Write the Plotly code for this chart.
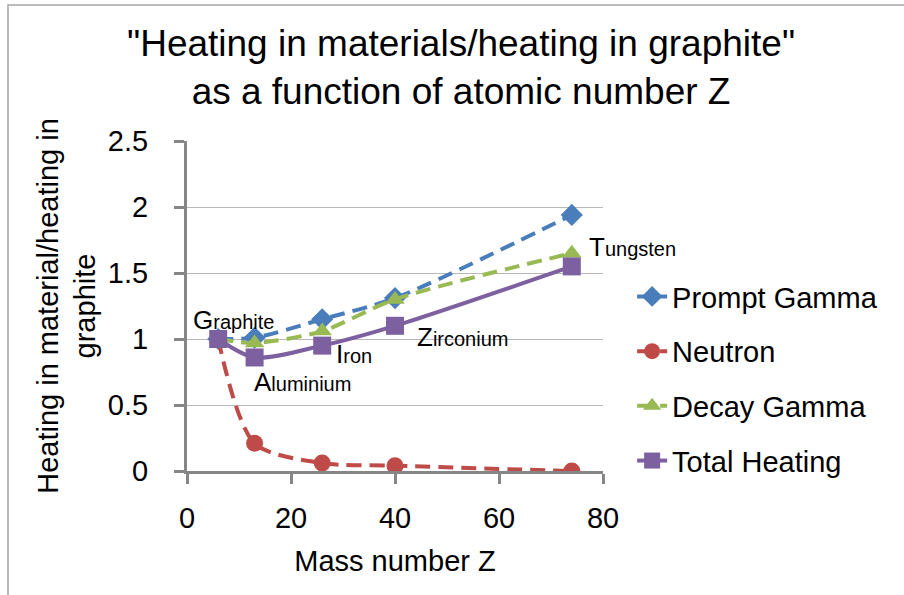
import plotly.graph_objects as go

# Data
z_values = [6, 13, 26, 40, 74]
prompt_gamma = [1.0, 1.01, 1.15, 1.31, 1.94]
neutron = [1.0, 0.21, 0.06, 0.04, 0.0]
decay_gamma = [1.0, 0.97, 1.06, 1.30, 1.65]
total_heating = [1.0, 0.86, 0.95, 1.10, 1.55]
materials = ["Graphite", "Aluminium", "Iron", "Zirconium", "Tungsten"]
x_ticks = [0, 20, 40, 60, 80]
y_ticks = [0, 0.5, 1, 1.5, 2, 2.5]

FONT = "Liberation Sans, Arial, sans-serif"
DASH = "15px,8px"

series = [
    ("Prompt Gamma", prompt_gamma, "#4a7ebb", "diamond", 17, DASH),
    ("Neutron", neutron, "#be4b48", "circle", 17, DASH),
    ("Decay Gamma", decay_gamma, "#98b954", "triangle-up", 17, DASH),
    ("Total Heating", total_heating, "#7d60a0", "square", 18, "solid"),
]

fig = go.Figure()
for i, (name, vals, color, sym, size, dash) in enumerate(series):
    fig.add_trace(go.Scatter(
        x=z_values, y=vals, name=name, mode="lines+markers",
        line=dict(color=color, width=4, dash=dash, shape="spline", smoothing=0.8),
        marker=dict(symbol=sym, size=size, color=color, line=dict(width=0)),
        legendgroup="g%d" % i,
    ))

# Data labels on Total Heating (left edge offset, vertical offset in px)
label_offsets = [(-27, 19), (-3, -25), (12, -8), (20, -11), (15, 19)]
for name, x, y, (dx, dy) in zip(materials, z_values, total_heating, label_offsets):
    fig.add_annotation(
        x=x, y=y, xref="x", yref="y", showarrow=False,
        text="<span style='font-size:26px'>%s</span>%s" % (name[0], name[1:]),
        font=dict(family=FONT, size=20, color="#000000"),
        xanchor="left", yanchor="middle", xshift=dx, yshift=dy,
    )

axis_common = dict(
    showline=True, linecolor="#868686", linewidth=3,
    ticks="outside", ticklen=10, tickwidth=3, tickcolor="#868686",
    tickfont=dict(family=FONT, size=29, color="#000000"),
    zeroline=False, automargin=False,
)

fig.update_xaxes(
    range=[0, 80], tickvals=x_ticks, showgrid=False,
    ticklabelstandoff=9,
    title=dict(text="Mass number Z", font=dict(family=FONT, size=29, color="#000000"), standoff=18),
    **axis_common,
)
fig.update_yaxes(
    range=[0, 2.5], tickvals=y_ticks, ticktext=["0", "0.5", "1", "1.5", "2", "2.5"],
    showgrid=True, gridcolor="#b8b8b8", gridwidth=1,
    ticklabelstandoff=20,
    title=dict(text="Heating in material/heating in<br>graphite",
               font=dict(family=FONT, size=29, color="#000000"), standoff=4),
    **axis_common,
)

# Outer chart border
fig.add_shape(type="rect", xref="paper", yref="paper",
              x0=-0.4303, x1=1.9, y0=-1.0, y1=1.412,
              line=dict(color="#a6a6a6", width=1.5), fillcolor="rgba(0,0,0,0)", layer="below")

fig.update_layout(
    width=904, height=595,
    margin=dict(l=187, r=301, t=141, b=124),
    paper_bgcolor="white", plot_bgcolor="white",
    title=dict(
        text="\"Heating in materials/heating in graphite\"<br>as a function of atomic number Z",
        font=dict(family=FONT, size=37, color="#000000"),
        x=0.51, xanchor="center", xref="container",
        y=1 - 56 / 595, yanchor="middle", yref="container",
    ),
    legend=dict(
        x=1.07, y=0.28, xanchor="left", yanchor="middle",
        font=dict(family=FONT, size=29, color="#000000"),
        tracegroupgap=14, itemwidth=30, bgcolor="rgba(0,0,0,0)",
    ),
    showlegend=True,
)

fig.write_html("out.html", config={"displayModeBar": False},
               post_script="document.body.style.margin='0';document.body.style.overflow='hidden';")
